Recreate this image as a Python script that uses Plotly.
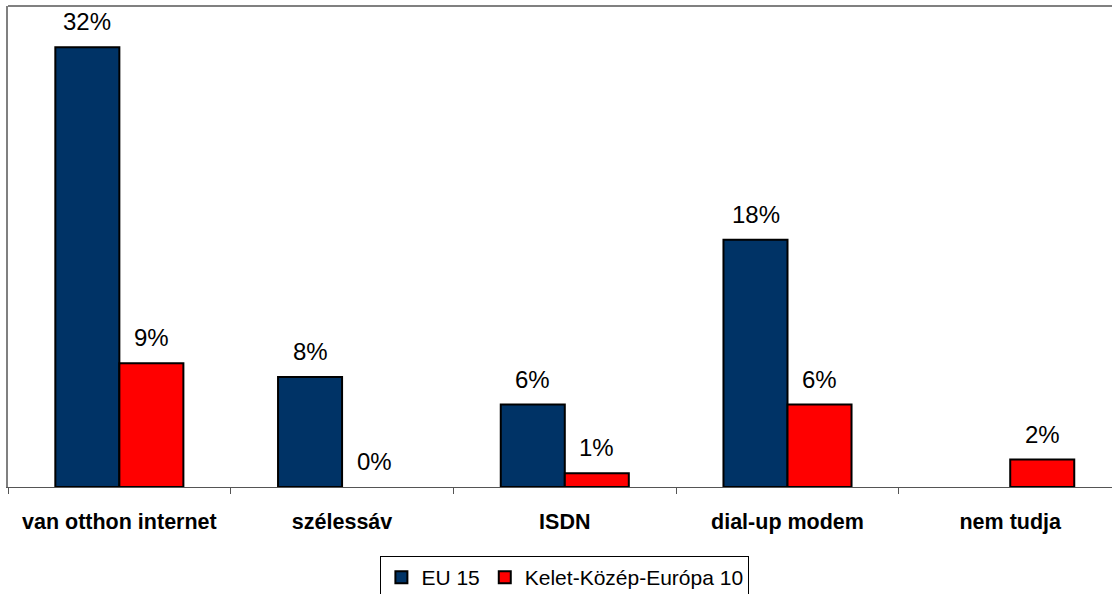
import plotly.graph_objects as go

categories = ["van otthon internet", "szélessáv", "ISDN", "dial-up modem", "nem tudja"]
eu15 = [32, 8, 6, 18, None]
kke10 = [9, 0, 1, 6, 2]
series_names = ["EU 15", "Kelet-Közép-Európa 10"]
colors = ["#003366", "#FF0000"]

FONT = "Liberation Sans, Arial, sans-serif"

fig = go.Figure()
for name, vals, col in zip(series_names, [eu15, kke10], colors):
    fig.add_trace(go.Bar(
        x=categories, y=vals, name=name,
        marker=dict(color=col,
                    line=dict(color="black",
                              width=[0 if v == 0 else 2 for v in vals])),
    ))

# data labels
for vals, shift in [(eu15, -32), (kke10, 32)]:
    for c, v in zip(categories, vals):
        if v is None:
            continue
        fig.add_annotation(
            x=c, y=v, xref="x", yref="y", text=f"{v}%", showarrow=False,
            xshift=shift, yshift=10, yanchor="bottom",
            font=dict(family=FONT, size=24, color="black"),
        )

# plot area border (top line)
fig.add_shape(type="line", xref="paper", yref="paper", x0=0, x1=1.05, y0=1, y1=1,
              line=dict(color="#808080", width=2))

fig.update_layout(
    width=1112, height=594,
    margin=dict(l=8, r=0, t=6, b=107),
    paper_bgcolor="white", plot_bgcolor="white",
    barmode="group", bargap=0.425, bargroupgap=0,
    font=dict(family=FONT, color="black"),
    showlegend=True,
    legend=dict(
        orientation="h", xref="container", yref="container",
        x=0.508, xanchor="center", y=1 - 556 / 594, yanchor="top",
        font=dict(family=FONT, size=21, color="black"),
        bordercolor="black", borderwidth=1, bgcolor="white",
        itemwidth=30, tracegroupgap=0,
    ),
    xaxis=dict(
        type="category", range=[-0.5, 4.457],
        showline=True, linecolor="#555555", linewidth=1,
        ticks="outside", ticklen=6, tickcolor="#555555", tickwidth=1,
        tickson="boundaries", showgrid=False, zeroline=False,
        tickfont=dict(family=FONT, size=21.5, color="black", weight="bold"),
        ticklabelstandoff=15,
    ),
    yaxis=dict(
        range=[0, 35], showticklabels=False, ticks="", showgrid=False,
        zeroline=False, showline=True, linecolor="#808080", linewidth=2,
    ),
)

fig.write_html(
    "out.html",
    config={"displayModeBar": False},
    post_script="document.body.style.margin='0';document.body.style.overflow='hidden';",
)
